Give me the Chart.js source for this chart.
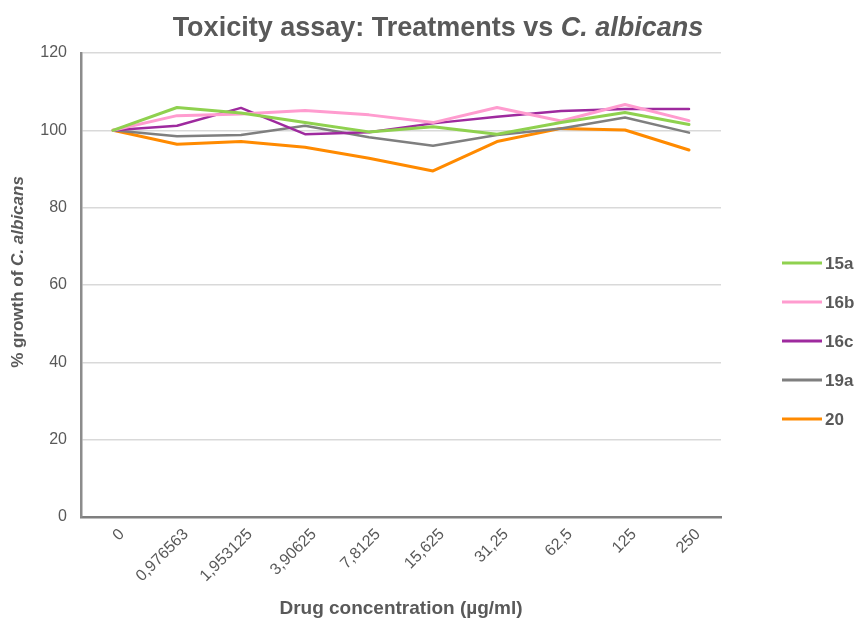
<!DOCTYPE html>
<html>
<head>
<meta charset="utf-8">
<script src="https://cdn.jsdelivr.net/npm/chart.js@4"></script>
<style>
  html, body { margin: 0; padding: 0; background: #fff; }
  .chart-box { width: 857px; height: 622px; position: relative; }
</style>
</head>
<body>
<div class="chart-box"><canvas id="toxChart"></canvas></div>
<script>
// values
const concentrations = ["0", "0,976563", "1,953125", "3,90625", "7,8125", "15,625", "31,25", "62,5", "125", "250"];
const growth15a = [100, 105.9, 104.5, 102, 99.6, 100.9, 99, 102, 104.6, 101.5];
const growth16b = [100, 103.8, 104.2, 105.1, 104, 102, 105.9, 102.4, 106.7, 102.5];
const growth16c = [100, 101.2, 105.8, 99, 99.5, 101.8, 103.5, 105, 105.5, 105.5];
const growth19a = [100, 98.5, 98.8, 101.2, 98.2, 96, 98.8, 100.5, 103.3, 99.4];
const growth20 = [100, 96.4, 97.1, 95.6, 92.8, 89.5, 97.1, 100.5, 100.1, 94.9];
const yTicks = [0, 20, 40, 60, 80, 100, 120];

const textGrey = "#595959";
const fontFam = "'Liberation Sans', Arial, sans-serif";

// draws a line of text made of parts with different fonts, centred on x
function drawMixed(ctx, parts, x, y) {
    let total = 0;
    parts.forEach((p) => {
        ctx.font = p.font;
        p.w = ctx.measureText(p.text).width;
        total += p.w;
    });
    let cx = x - total / 2;
    parts.forEach((p) => {
        ctx.font = p.font;
        ctx.fillText(p.text, cx, y);
        cx += p.w;
    });
}

const extrasPlugin = {
    id: "extras",
    afterDraw(chart) {
        const ctx = chart.ctx;
        ctx.save();
        ctx.fillStyle = textGrey;
        ctx.textAlign = "left";
        ctx.textBaseline = "middle";

        // title
        drawMixed(ctx, [
            { text: "Toxicity assay: Treatments vs ", font: "bold 27px " + fontFam },
            { text: "C. albicans", font: "italic bold 27px " + fontFam },
        ], 438, 29);

        // y axis title
        ctx.save();
        ctx.translate(18, 272);
        ctx.rotate(-Math.PI / 2);
        drawMixed(ctx, [
            { text: "% growth of ", font: "bold 17px " + fontFam },
            { text: "C. albicans", font: "italic bold 17px " + fontFam },
        ], 0, 0);
        ctx.restore();

        // legend
        chart.data.datasets.forEach((ds, i) => {
            const ly = 263 + i * 39;
            ctx.strokeStyle = ds.borderColor;
            ctx.lineWidth = 3;
            ctx.beginPath();
            ctx.moveTo(782, ly);
            ctx.lineTo(822, ly);
            ctx.stroke();
            ctx.font = "bold 17px " + fontFam;
            ctx.fillText(ds.label, 825, ly + 1);
        });
        ctx.restore();
    },
};

const ctx = document.getElementById("toxChart").getContext("2d");

new Chart(ctx, {
    type: "line",
    data: {
        labels: concentrations,
        datasets: [
            { label: "15a", data: growth15a, borderColor: "#8fd14f", borderWidth: 3 },
            { label: "16b", data: growth16b, borderColor: "#ff9ccf", borderWidth: 3 },
            { label: "16c", data: growth16c, borderColor: "#9e2a9e", borderWidth: 2.5 },
            { label: "19a", data: growth19a, borderColor: "#7f7f7f", borderWidth: 2.5 },
            { label: "20", data: growth20, borderColor: "#ff8a00", borderWidth: 3 },
        ],
    },
    options: {
        responsive: true,
        maintainAspectRatio: false,
        animation: false,
        layout: {
            padding: { top: 53, right: 136, bottom: 0, left: 0 },
        },
        elements: {
            line: { tension: 0, borderCapStyle: "round", borderJoinStyle: "round" },
            point: { radius: 0, hoverRadius: 0 },
        },
        scales: {
            x: {
                offset: true,
                grid: { display: false },
                border: { color: "#7f7f7f", width: 2.5 },
                ticks: {
                    color: textGrey,
                    font: { family: fontFam, size: 16 },
                    minRotation: 45,
                    maxRotation: 45,
                    padding: 0,
                    labelOffset: 9,
                },
                title: {
                    display: true,
                    text: "Drug concentration (µg/ml)",
                    color: textGrey,
                    font: { family: fontFam, size: 19, weight: "bold" },
                    padding: { top: 0, bottom: 2 },
                },
                afterFit(scale) {
                    scale.height = 105;
                },
            },
            y: {
                min: 0,
                max: 120,
                afterBuildTicks(scale) {
                    scale.ticks = yTicks.map((v) => ({ value: v }));
                },
                grid: { color: "#d9d9d9", lineWidth: 1.5, drawTicks: false },
                border: { color: "#8c8c8c", width: 2.5 },
                ticks: {
                    color: textGrey,
                    font: { family: fontFam, size: 16 },
                    padding: 14,
                },
                afterFit(scale) {
                    scale.width = 81;
                },
            },
        },
        plugins: {
            legend: { display: false },
            title: { display: false },
            tooltip: { enabled: false },
        },
    },
    plugins: [extrasPlugin],
});
</script>
</body>
</html>
